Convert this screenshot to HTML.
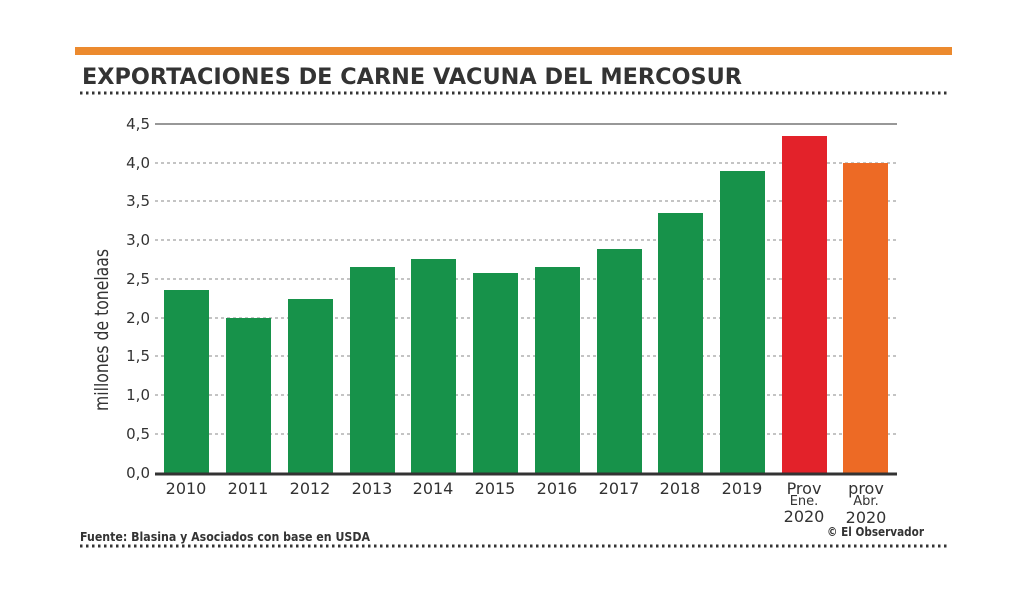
<!DOCTYPE html>
<html><head><meta charset="utf-8"><style>
body{margin:0;background:#fff;width:1024px;height:597px;overflow:hidden;font-family:"DejaVu Sans","Liberation Sans",sans-serif;}
</style></head><body>
<svg width="1024" height="597" xmlns="http://www.w3.org/2000/svg" font-family="DejaVu Sans, Liberation Sans, sans-serif">
<rect x="75" y="47" width="877" height="8" fill="#ec8a2e"/>
<text x="82" y="84" font-size="22" font-weight="bold" fill="#333" textLength="660" lengthAdjust="spacingAndGlyphs">EXPORTACIONES DE CARNE VACUNA DEL MERCOSUR</text>
<line x1="80" y1="93" x2="950" y2="93" stroke="#333" stroke-width="3" stroke-dasharray="2.5,3.5"/>
<line x1="80" y1="546" x2="950" y2="546" stroke="#333" stroke-width="3" stroke-dasharray="2.5,3.5"/>
<line x1="155" y1="124" x2="897" y2="124" stroke="#777" stroke-width="1.5"/>
<g stroke="#888" stroke-width="1" stroke-dasharray="3,3">
<line x1="155" y1="163" x2="897" y2="163"/><line x1="155" y1="201" x2="897" y2="201"/>
<line x1="155" y1="240" x2="897" y2="240"/><line x1="155" y1="279" x2="897" y2="279"/>
<line x1="155" y1="318" x2="897" y2="318"/><line x1="155" y1="356" x2="897" y2="356"/>
<line x1="155" y1="395" x2="897" y2="395"/><line x1="155" y1="434" x2="897" y2="434"/>
</g>
<g font-size="15" fill="#333" text-anchor="end">
<text x="150" y="129">4,5</text><text x="150" y="168">4,0</text><text x="150" y="206">3,5</text>
<text x="150" y="245">3,0</text><text x="150" y="284">2,5</text><text x="150" y="323">2,0</text>
<text x="150" y="361">1,5</text><text x="150" y="400">1,0</text><text x="150" y="439">0,5</text><text x="150" y="478">0,0</text>
</g>
<text transform="translate(108,330) rotate(-90)" font-size="19" fill="#333" text-anchor="middle" textLength="162" lengthAdjust="spacingAndGlyphs">millones de tonelaas</text>
<g fill="#17924a">
<rect x="164" y="290" width="45" height="183"/><rect x="226" y="318" width="45" height="155"/>
<rect x="288" y="299" width="45" height="174"/><rect x="350" y="267" width="45" height="206"/>
<rect x="411" y="259" width="45" height="214"/><rect x="473" y="273" width="45" height="200"/>
<rect x="535" y="267" width="45" height="206"/><rect x="597" y="249" width="45" height="224"/>
<rect x="658" y="213" width="45" height="260"/><rect x="720" y="171" width="45" height="302"/>
</g>
<rect x="782" y="136" width="45" height="337" fill="#e3222a"/>
<rect x="843" y="163" width="45" height="310" fill="#ed6a25"/>
<line x1="155" y1="474" x2="897" y2="474" stroke="#333" stroke-width="3"/>
<g font-size="16" fill="#333" text-anchor="middle">
<text x="186" y="494">2010</text><text x="248" y="494">2011</text><text x="310" y="494">2012</text>
<text x="372" y="494">2013</text><text x="433" y="494">2014</text><text x="495" y="494">2015</text>
<text x="557" y="494">2016</text><text x="619" y="494">2017</text><text x="680" y="494">2018</text>
<text x="742" y="494">2019</text>
<text x="804" y="494">Prov</text><text x="804" y="505" font-size="13">Ene.</text><text x="804" y="522">2020</text>
<text x="866" y="494">prov</text><text x="866" y="505" font-size="13">Abr.</text><text x="866" y="523">2020</text>
</g>
<text x="80" y="541" font-size="12" font-weight="bold" fill="#333" textLength="290" lengthAdjust="spacingAndGlyphs">Fuente: Blasina y Asociados con base en USDA</text>
<text x="827" y="536" font-size="12" font-weight="bold" fill="#333" textLength="97" lengthAdjust="spacingAndGlyphs">© El Observador</text>
</svg>
</body></html>
